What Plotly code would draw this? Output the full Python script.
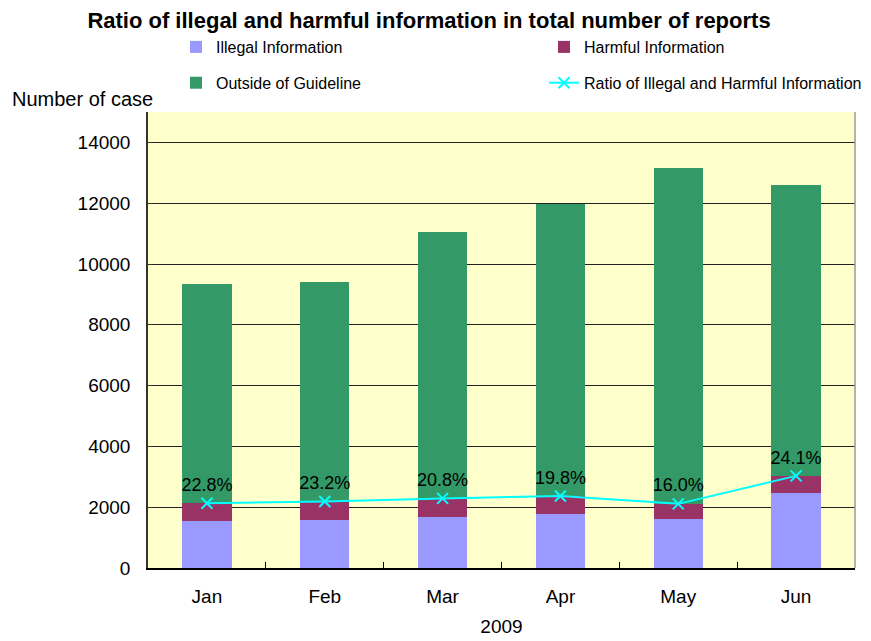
import plotly.graph_objects as go

months = ["Jan", "Feb", "Mar", "Apr", "May", "Jun"]
illegal = [1560, 1590, 1690, 1790, 1620, 2470]
harmful = [570, 600, 600, 580, 490, 560]
outside = [7210, 7210, 8750, 9620, 11040, 9560]
ratio_labels = ["22.8%", "23.2%", "20.8%", "19.8%", "16.0%", "24.1%"]
line_values = [a + b for a, b in zip(illegal, harmful)]
y_ticks = [0, 2000, 4000, 6000, 8000, 10000, 12000, 14000]

FONT = "Liberation Sans"
W, H = 863, 633  # page body has an 8px margin

fig = go.Figure()
fig.add_trace(go.Bar(x=months, y=illegal, name="Illegal Information",
                     marker=dict(color="#9999FF", line=dict(width=0)),
                     legend="legend", legendgroup="a"))
fig.add_trace(go.Bar(x=months, y=harmful, name="Harmful Information",
                     marker=dict(color="#993366", line=dict(width=0)),
                     legend="legend2", legendgroup="b"))
fig.add_trace(go.Bar(x=months, y=outside, name="Outside of Guideline",
                     marker=dict(color="#339966", line=dict(width=0)),
                     legend="legend", legendgroup="c"))
fig.add_trace(go.Scatter(x=months, y=line_values, name="Ratio of Illegal and Harmful Information",
                         mode="lines+markers+text", text=ratio_labels,
                         textposition="top center",
                         textfont=dict(size=18, color="#000000", family=FONT),
                         line=dict(color="#00FFFF", width=2),
                         marker=dict(symbol="x-thin", size=11, color="#00FFFF",
                                     line=dict(color="#00FFFF", width=2)),
                         legend="legend2", legendgroup="d"))

legend_common = dict(orientation="v", font=dict(size=16, family=FONT, color="#000000"),
                     bgcolor="rgba(0,0,0,0)", tracegroupgap=12,
                     xref="container", yref="container", xanchor="left", yanchor="top",
                     traceorder="grouped")

fig.update_layout(
    width=W, height=H,
    paper_bgcolor="#FFFFFF",
    plot_bgcolor="#FFFFCC",
    barmode="stack",
    bargap=0.58,
    margin=dict(l=140, r=16, t=104, b=73, autoexpand=False),
    title=dict(text="<b>Ratio of illegal and harmful information in total number of reports</b>",
               x=421 / W, xanchor="center", y=1 - 12 / H, yanchor="middle",
               font=dict(size=22, family=FONT, color="#000000")),
    legend=dict(x=168 / W, y=1 - 22 / H, **legend_common),
    legend2=dict(x=536 / W, y=1 - 22 / H, **legend_common),
    xaxis=dict(showline=True, linecolor="#000000", linewidth=1.5,
               ticks="inside", tickson="boundaries", ticklen=6, tickcolor="#000000",
               tickfont=dict(size=19, family=FONT, color="#000000"),
               ticklabelstandoff=10,
               title=dict(text="2009", font=dict(size=19, family=FONT, color="#000000"), standoff=14),
               mirror=False, automargin=False, tickangle=0),
    yaxis=dict(range=[0, 15000], tickvals=y_ticks, tickformat="d", showline=True,
               linecolor="#333333", linewidth=1.5,
               ticks="inside", ticklen=5, tickcolor="#333333",
               showgrid=True, gridcolor="#222222", gridwidth=1,
               tickfont=dict(size=19, family=FONT, color="#000000"),
               ticklabelstandoff=12,
               zeroline=False, automargin=False),
    annotations=[dict(text="Number of case", xref="paper", yref="paper", x=-138 / 707, y=1.0,
                      xanchor="left", yanchor="bottom", showarrow=False,
                      font=dict(size=20, family=FONT, color="#000000"))],
    shapes=[dict(type="line", xref="paper", yref="paper", x0=1, x1=1, y0=0, y1=1,
                 line=dict(color="#999999", width=1.5))],
)

fig.write_html("out.html")
